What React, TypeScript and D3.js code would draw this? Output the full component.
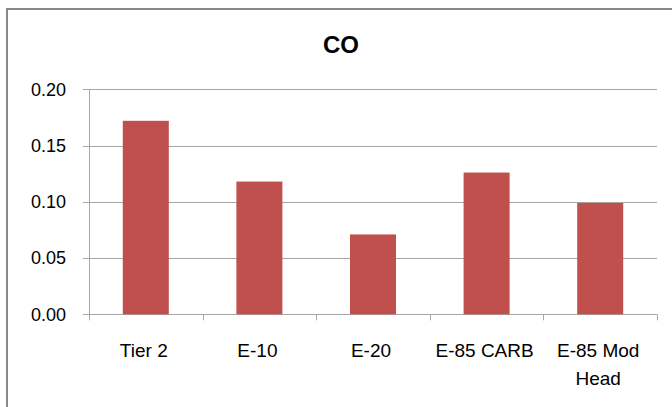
import { useEffect, useRef } from "react";
import * as d3 from "d3";

const categories = ["Tier 2", "E-10", "E-20", "E-85 CARB", "E-85 Mod Head"];
const coValues = [0.172, 0.118, 0.071, 0.126, 0.099];
const yTicks = [0, 0.05, 0.1, 0.15, 0.2];
const title = "CO";

export default function App() {
  const svgRef = useRef<SVGSVGElement | null>(null);
  const width = 672;
  const height = 407;

  useEffect(() => {
    if (!svgRef.current) return;
    const svg = d3.select(svgRef.current);
    svg.selectAll("*").remove();

    const left = 89;
    const right = 657;
    const top = 89.3;
    const bottom = 314.3;
    const font = "'Liberation Sans', Arial, sans-serif";

    // chart frame (cut off at right and bottom like the source)
    svg
      .append("rect")
      .attr("x", 7)
      .attr("y", 9)
      .attr("width", 690)
      .attr("height", 430)
      .attr("fill", "#fff")
      .attr("stroke", "#888888")
      .attr("stroke-width", 2);

    const x = d3.scaleBand<string>().domain(categories).range([left, right]);
    const y = d3.scaleLinear().domain([0, 0.2]).range([bottom, top]);

    // gridlines
    svg
      .append("g")
      .selectAll("line")
      .data(yTicks)
      .join("line")
      .attr("x1", left - 6)
      .attr("x2", right)
      .attr("y1", (d) => Math.round(y(d)) + 0.5)
      .attr("y2", (d) => Math.round(y(d)) + 0.5)
      .attr("stroke", "#a6a6a6")
      .attr("stroke-width", 1);

    // y axis line
    svg
      .append("line")
      .attr("x1", left + 0.5)
      .attr("x2", left + 0.5)
      .attr("y1", top)
      .attr("y2", bottom)
      .attr("stroke", "#a6a6a6");

    // category ticks
    const bounds = categories.map((c) => x(c)!).concat([right]);
    svg
      .append("g")
      .selectAll("line")
      .data(bounds)
      .join("line")
      .attr("x1", (d) => Math.round(d) + 0.5)
      .attr("x2", (d) => Math.round(d) + 0.5)
      .attr("y1", bottom)
      .attr("y2", bottom + 6)
      .attr("stroke", "#a6a6a6");

    // bars
    const bw = x.bandwidth() * 0.405;
    svg
      .append("g")
      .selectAll("rect")
      .data(coValues)
      .join("rect")
      .attr("x", (_, i) => x(categories[i])! + (x.bandwidth() - bw) / 2)
      .attr("y", (d) => y(d))
      .attr("width", bw)
      .attr("height", (d) => bottom - y(d))
      .attr("fill", "#C0504D");

    // y labels
    svg
      .append("g")
      .selectAll("text")
      .data(yTicks)
      .join("text")
      .attr("x", 66)
      .attr("y", (d) => y(d))
      .attr("dy", "0.35em")
      .attr("text-anchor", "end")
      .style("font-family", font)
      .style("font-size", "18px")
      .style("fill", "#000")
      .text((d) => d3.format(".2f")(d));

    // x labels (wrap last one)
    const xl = svg.append("g");
    categories.forEach((c) => {
      const cx = x(c)! + x.bandwidth() / 2 - 2;
      const lines = c === "E-85 Mod Head" ? ["E-85 Mod", "Head"] : [c];
      const t = xl
        .append("text")
        .attr("text-anchor", "middle")
        .style("font-family", font)
        .style("font-size", "19px")
        .style("fill", "#000");
      lines.forEach((ln, j) => {
        t.append("tspan").attr("x", cx).attr("y", 357 + j * 28).text(ln);
      });
    });

    // title
    svg
      .append("text")
      .attr("x", 341)
      .attr("y", 53)
      .attr("text-anchor", "middle")
      .style("font-family", font)
      .style("font-size", "24px")
      .style("font-weight", "bold")
      .text(title);
  }, []);

  return (
    <svg
      ref={svgRef}
      width={width}
      height={height}
      style={{ position: "absolute", left: 0, top: 0, display: "block", background: "#fff" }}
    />
  );
}
